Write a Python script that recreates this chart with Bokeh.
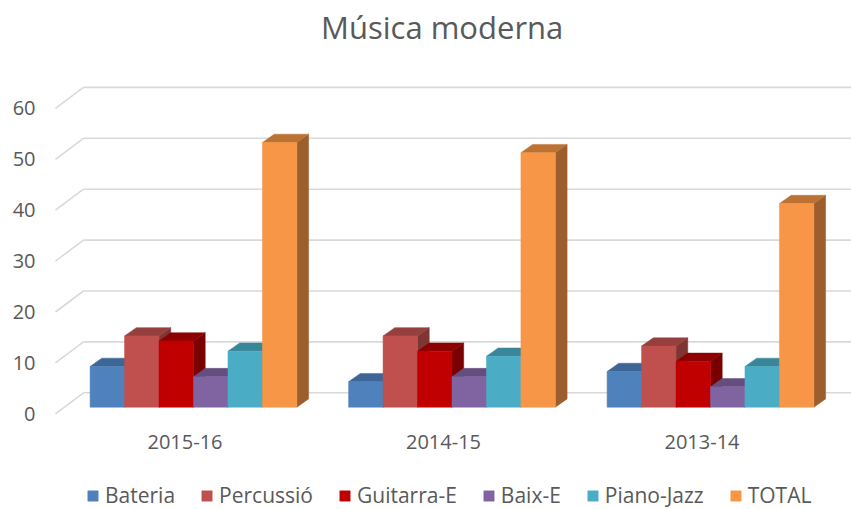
from bokeh.plotting import figure
from bokeh.models import Range1d, LinearAxis, FixedTicker, Legend, LegendItem, Label
from bokeh.core.properties import value
from bokeh.embed import file_html
from bokeh.resources import INLINE

# ---- data ----
title_text = "Música moderna"
categories = ["2015-16", "2014-15", "2013-14"]
bateria = [8, 5, 7]
percussio = [14, 14, 12]
guitarra = [13, 11, 9]
baix = [6, 6, 4]
piano = [11, 10, 8]
total = [52, 50, 40]
series_names = ["Bateria", "Percussió", "Guitarra-E", "Baix-E", "Piano-Jazz", "TOTAL"]
y_ticks = [0, 10, 20, 30, 40, 50, 60]

series = [bateria, percussio, guitarra, baix, piano, total]
front_colors = ["#4F81BD", "#C0504D", "#C00000", "#8064A2", "#4BACC6", "#F79646"]
top_colors = ["#3D6696", "#96403E", "#8E0000", "#644E80", "#3A8699", "#BC7233"]
side_colors = ["#35598A", "#7F3533", "#7A0000", "#553F6C", "#327486", "#9C5E2C"]

TXT = "#595959"
FONT = "Open Sans"

# geometry (data units)
x_start, x_end = -0.5532, 2.5455
y_start, y_end = -20.1, 79.90
cluster_w = 0.8
bw = cluster_w / len(series)
ddx, ddy = 0.0453, 1.63          # bar depth
wall_dx, wall_dy = 0.0743, 2.83  # back wall offset
fl_dx, fl_dy = -0.034, -1.30     # floor front edge offset
plane_x = -0.5
lab_dx, lab_dy = -0.0329, -6.88  # category label offset below the floor
title_x, title_y = 0.962, 74.6

p = figure(width=851, height=509, output_backend="svg", toolbar_location=None, title=None,
           x_range=Range1d(x_start, x_end), y_range=Range1d(y_start, y_end),
           x_axis_type=None, y_axis_type=None,
           min_border_left=50, min_border_right=0, min_border_top=0, min_border_bottom=0)
p.outline_line_color = None
p.background_fill_color = "white"

# chart title
p.add_layout(Label(x=title_x, y=title_y, text=title_text, text_align="center",
                   text_baseline="middle", text_font=FONT, text_font_size="31px",
                   text_color=TXT))

# back wall gridlines and side wall diagonals
p.segment(x0=[plane_x + wall_dx] * len(y_ticks), y0=[v + wall_dy for v in y_ticks],
          x1=[x_end + 1] * len(y_ticks), y1=[v + wall_dy for v in y_ticks],
          line_color="#D9D9D9", line_width=1.6)
p.segment(x0=[plane_x + fl_dx] * len(y_ticks), y0=[v + fl_dy for v in y_ticks],
          x1=[plane_x + wall_dx] * len(y_ticks), y1=[v + wall_dy for v in y_ticks],
          line_color="#D9D9D9", line_width=1.6)

items = []
for k, (vals, name) in enumerate(zip(series, series_names)):
    lefts = [i - cluster_w / 2 + k * bw for i in range(len(categories))]
    rights = [l + bw for l in lefts]
    side_xs = [[r, r + ddx, r + ddx, r] for r in rights]
    side_ys = [[0, ddy, v + ddy, v] for v in vals]
    p.patches(xs=side_xs, ys=side_ys, fill_color=side_colors[k], line_color=side_colors[k], line_width=0.5)
    top_xs = [[l, r, r + ddx, l + ddx] for l, r in zip(lefts, rights)]
    top_ys = [[v, v, v + ddy, v + ddy] for v in vals]
    p.patches(xs=top_xs, ys=top_ys, fill_color=top_colors[k], line_color=top_colors[k], line_width=0.5)
    centers = [l + bw / 2 for l in lefts]
    r = p.vbar(x=centers, top=vals, bottom=0, width=bw, fill_color=front_colors[k],
               line_color=front_colors[k], line_width=0.5)
    items.append(LegendItem(label=name, renderers=[r]))

# category labels under each cluster (on the floor's front edge)
p.text(x=[i + lab_dx for i in range(len(categories))], y=[lab_dy] * len(categories),
       text=categories, text_align="center", text_baseline="middle",
       text_font=value(FONT), text_font_size="20px", text_color=TXT)

# y axis on a shifted range (labels sit on the floor's front edge)
p.extra_y_ranges = {"floor": Range1d(y_start - fl_dy, y_end - fl_dy)}
yax = LinearAxis(y_range_name="floor", ticker=FixedTicker(ticks=y_ticks))
yax.axis_line_color = None
yax.major_tick_line_color = None
yax.minor_tick_line_color = None
yax.major_tick_out = 0
yax.major_tick_in = 0
yax.major_label_standoff = 15
yax.major_label_text_font = FONT
yax.major_label_text_font_size = "20px"
yax.major_label_text_color = TXT
p.add_layout(yax, "left")

legend = Legend(items=items, orientation="horizontal", location=(36, 0),
                glyph_width=13, glyph_height=13, label_standoff=6, spacing=25,
                label_height=20, padding=0, margin=0, border_line_alpha=0,
                background_fill_alpha=0,
                label_text_font=FONT, label_text_font_size="21px", label_text_color=TXT)
p.add_layout(legend, "center")

open("out.html", "w").write(file_html(p, INLINE))
